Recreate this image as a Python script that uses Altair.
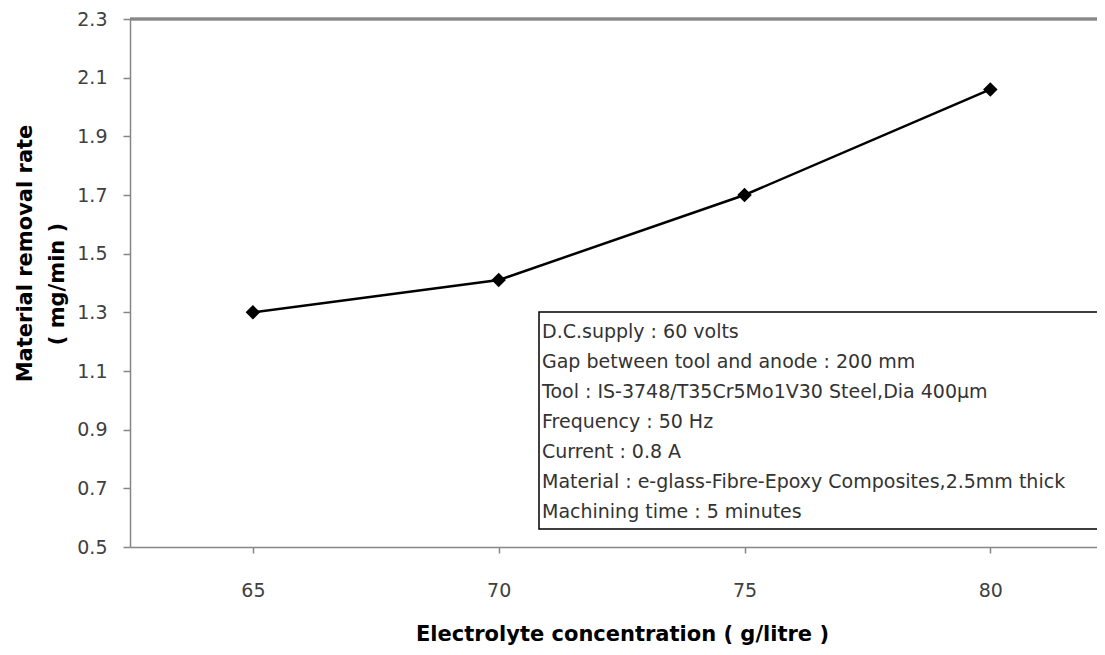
import altair as alt
import pandas as pd

# ---- data ----
concentration = [65, 70, 75, 80]
removal_rate = [1.30, 1.41, 1.70, 2.06]
x_ticks = [65, 70, 75, 80]
y_ticks = [0.5, 0.7, 0.9, 1.1, 1.3, 1.5, 1.7, 1.9, 2.1, 2.3]
x_title = "Electrolyte concentration ( g/litre )"
y_title_line1 = "Material removal rate"
y_title_line2 = "( mg/min )"
note_lines = [
    "D.C.supply : 60 volts",
    "Gap between tool and anode : 200 mm",
    "Tool : IS-3748/T35Cr5Mo1V30 Steel,Dia 400µm",
    "Frequency : 50 Hz",
    "Current : 0.8 A",
    "Material : e-glass-Fibre-Epoxy Composites,2.5mm thick",
    "Machining time : 5 minutes",
]

FONT = "DejaVu Sans"
AXIS_GRAY = "#868686"

df = pd.DataFrame({"conc": concentration, "mrr": removal_rate})

x_enc = alt.X(
    "conc:Q",
    scale=alt.Scale(domain=[62.5, 82.17], nice=False, zero=False),
    axis=alt.Axis(
        values=x_ticks, title=x_title, grid=False, tickSize=6,
        labelPadding=37, labelBaseline="middle",
        titleX=492, titleY=87, titleBaseline="middle", titleAlign="center",
    ),
)
y_enc = alt.Y(
    "mrr:Q",
    scale=alt.Scale(domain=[0.5, 2.3], nice=False, zero=False),
    axis=alt.Axis(
        values=y_ticks, format=".1f", title=y_title_line1, grid=False,
        tickSize=7, labelPadding=16,
        titleAngle=270, titleX=-105, titleY=234,
        titleAlign="center", titleBaseline="middle",
    ),
)

line = alt.Chart(df).mark_line(
    color="black", strokeWidth=2.5,
    point=alt.OverlayMarkDef(shape="diamond", size=210, filled=True, color="black"),
).encode(x=x_enc, y=y_enc)

top_rule = alt.Chart(df).mark_rule(color=AXIS_GRAY, strokeWidth=2.5).encode(
    y=alt.datum(2.3)
)

box = alt.Chart(pd.DataFrame({"a": [0]})).mark_rect(
    fill="white", stroke="black", strokeWidth=1.5
).encode(
    x=alt.value(409), x2=alt.value(990), y=alt.value(293), y2=alt.value(510)
)

note = alt.Chart(pd.DataFrame({"t": ["\n".join(note_lines)]})).mark_text(
    font=FONT, fontSize=19, color="#333333", align="left", baseline="middle",
    lineBreak="\n", lineHeight=30,
).encode(x=alt.value(412), y=alt.value(313), text="t:N")

y_title2 = alt.Chart(pd.DataFrame({"t": [y_title_line2]})).mark_text(
    font=FONT, fontSize=21, fontWeight="bold", color="black",
    align="center", baseline="middle", angle=270,
).encode(x=alt.value(-72), y=alt.value(265), text="t:N")

chart = alt.layer(top_rule, line, box, note, y_title2).properties(
    width=967, height=528,
    padding={"left": 122, "top": 11, "right": 0, "bottom": 100},
    autosize=alt.AutoSizeParams(type="none"),
    background="white",
).configure_axis(
    domainColor=AXIS_GRAY, domainWidth=1.5,
    tickColor=AXIS_GRAY, tickWidth=1.5,
    labelFont=FONT, labelFontSize=19, labelColor="#404040",
    titleFont=FONT, titleFontSize=21, titleFontWeight="bold", titleColor="black",
).configure_view(stroke=None)

chart.save("out.html", embed_options={"renderer": "svg", "actions": False})
